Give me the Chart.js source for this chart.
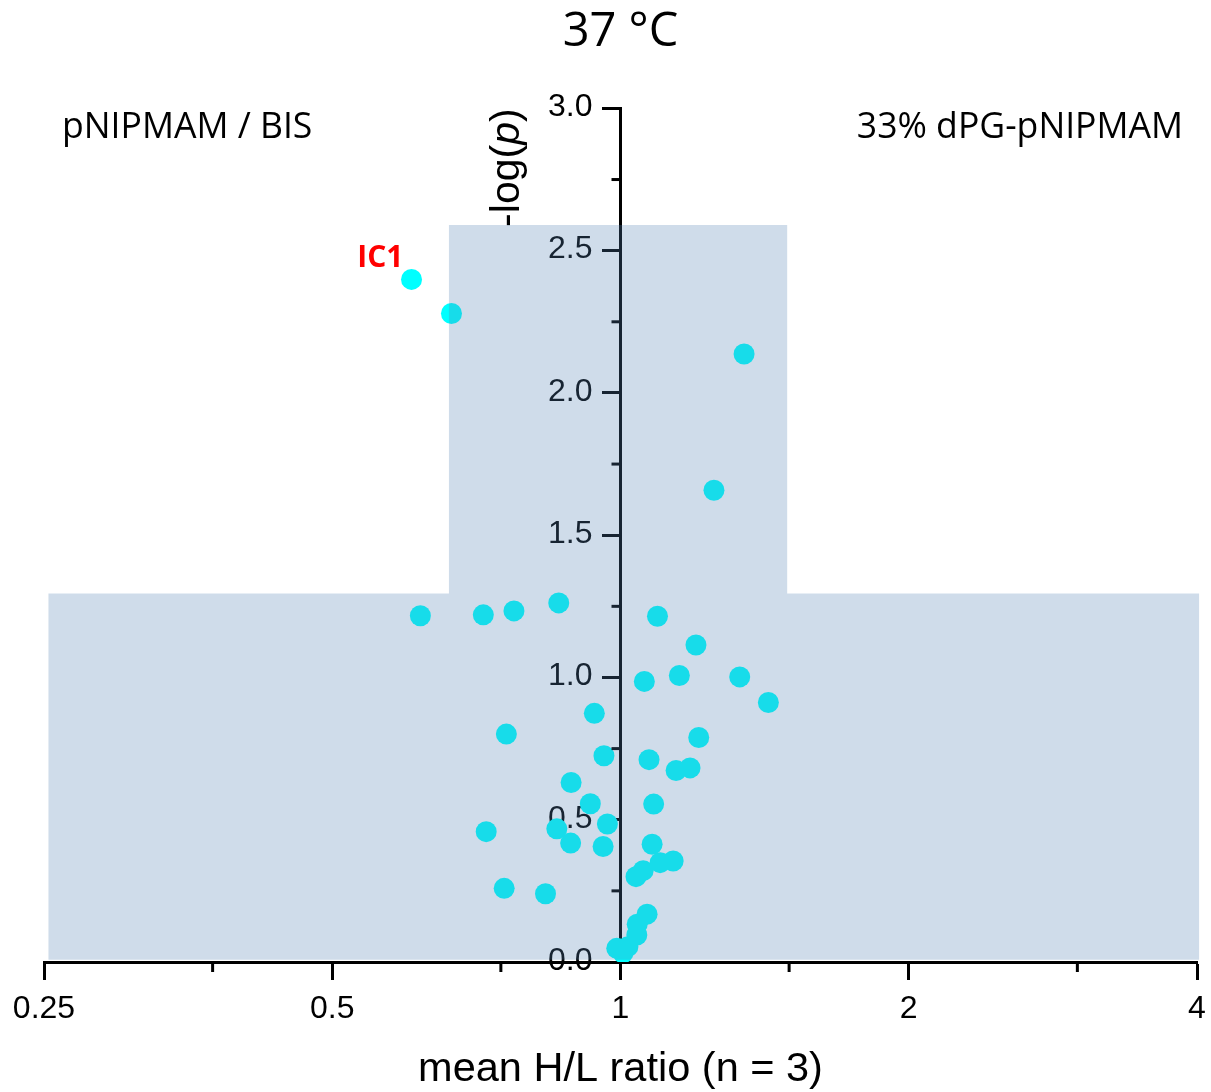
<!DOCTYPE html>
<html>
<head>
<meta charset="UTF-8">
<title>37 °C</title>
<script src="https://cdn.jsdelivr.net/npm/chart.js"></script>
<style>
    html, body { margin: 0; padding: 0; background: #fff; }
</style>
</head>
<body>
<canvas id="volcano" width="1211" height="1092"></canvas>
<script>
    // mean H/L ratio and -log(p) for each protein
    const ratioValues = [0.605, 0.666, 1.346, 1.252, 0.618, 0.719, 0.774, 0.862, 1.093, 1.199,
        1.152, 1.059, 1.332, 1.427, 0.939, 0.760, 1.207, 0.961, 1.071, 1.143,
        1.182, 0.888, 0.930, 1.083, 0.969, 0.724, 0.858, 0.887, 0.959, 1.079,
        1.100, 1.135, 1.056, 1.038, 0.756, 0.835, 1.066, 1.041, 1.040, 1.018,
        0.991, 1.006];
    const logPValues = [2.399, 2.279, 2.137, 1.658, 1.217, 1.220, 1.234, 1.262, 1.215, 1.114,
        1.007, 0.986, 1.002, 0.912, 0.874, 0.801, 0.789, 0.725, 0.711, 0.673,
        0.682, 0.631, 0.556, 0.555, 0.485, 0.458, 0.468, 0.418, 0.406, 0.414,
        0.349, 0.355, 0.321, 0.300, 0.259, 0.240, 0.168, 0.133, 0.095, 0.054,
        0.048, 0.032];
    const labelledIndex = 0;
    const labelledText = 'IC1';

    const xTickValues = [0.25, 0.375, 0.5, 0.75, 1, 1.5, 2, 3, 4];
    const xTickLabels = ['0.25', '', '0.5', '', '1', '', '2', '', '4'];

    // shaded regions: [x from, x to, y from, y to]
    const wideBox = [0.2527, 4.02, 0.008, 1.295];
    const tallBox = [0.662, 1.493, 0.008, 2.59];

    const leftNote = 'pNIPMAM / BIS';
    const rightNote = '33% dPG-pNIPMAM';

    const tickFont = 'Liberation Sans';
    const textFont = 'Open Sans';

    function isHalfStep(v) {
        return Math.abs(v * 2 - Math.round(v * 2)) < 1e-6;
    }

    // y tick labels sit left of the axis that crosses at x = 1
    const yLabels = {
        id: 'yLabels',
        beforeDatasetsDraw(chart) {
            const c = chart.ctx;
            const ys = chart.scales.y;
            const axisX = chart.scales.x.getPixelForValue(1);
            c.save();
            c.fillStyle = '#000';
            c.font = '32px "' + tickFont + '"';
            c.textAlign = 'right';
            c.textBaseline = 'middle';
            ys.ticks.forEach(t => {
                if (!isHalfStep(t.value)) return;
                c.fillText(t.value.toFixed(1), axisX - 28, ys.getPixelForValue(t.value) - 1);
            });
            c.restore();
        }
    };

    const extras = {
        id: 'extras',
        afterDraw(chart) {
            const c = chart.ctx;
            const xs = chart.scales.x;
            const ys = chart.scales.y;
            const area = chart.chartArea;
            const axisX = xs.getPixelForValue(1);

            c.save();
            // minor ticks
            c.strokeStyle = '#000';
            c.lineWidth = 3;
            xTickValues.forEach((v, i) => {
                if (xTickLabels[i] !== '') return;
                const px = xs.getPixelForValue(v);
                c.beginPath();
                c.moveTo(px, area.bottom);
                c.lineTo(px, area.bottom + 10);
                c.stroke();
            });
            ys.ticks.forEach(t => {
                if (isHalfStep(t.value)) return;
                const py = ys.getPixelForValue(t.value);
                c.beginPath();
                c.moveTo(axisX, py);
                c.lineTo(axisX - 9, py);
                c.stroke();
            });

            // corner notes
            c.fillStyle = '#000';
            c.font = '35.6px "' + textFont + '"';
            c.textBaseline = 'alphabetic';
            c.textAlign = 'left';
            c.fillText(leftNote, 62, 138);
            c.textAlign = 'right';
            c.fillText(rightNote, 1183, 138);

            // label next to the marked point
            const lx = xs.getPixelForValue(ratioValues[labelledIndex]);
            const ly = ys.getPixelForValue(logPValues[labelledIndex]);
            c.fillStyle = '#ff0000';
            c.font = 'bold 30px "' + textFont + '"';
            c.textAlign = 'right';
            c.fillText(labelledText, lx - 8, ly - 12);

            // y title, rotated, p in italics
            const parts = [['-log(', 'normal'], ['p', 'italic'], [')', 'normal']];
            c.translate(axisX - 113, area.top);
            c.rotate(-Math.PI / 2);
            c.fillStyle = '#000';
            c.textAlign = 'left';
            c.textBaseline = 'middle';
            let total = 0;
            parts.forEach(p => {
                c.font = p[1] + ' 41px "' + tickFont + '"';
                total += c.measureText(p[0]).width;
            });
            let pos = -total;
            parts.forEach(p => {
                c.font = p[1] + ' 41px "' + tickFont + '"';
                c.fillText(p[0], pos, 0);
                pos += c.measureText(p[0]).width;
            });
            c.restore();

            // translucent region laid over everything, as one shape
            c.save();
            c.fillStyle = 'rgba(83, 129, 180, 0.28)';
            c.beginPath();
            [wideBox, tallBox].forEach(b => {
                const x0 = xs.getPixelForValue(b[0]);
                const x1 = xs.getPixelForValue(b[1]);
                const y0 = ys.getPixelForValue(b[2]);
                const y1 = ys.getPixelForValue(b[3]);
                c.rect(x0, y1, x1 - x0, y0 - y1);
            });
            c.fill('nonzero');
            c.restore();
        }
    };

    const chart = new Chart(document.getElementById('volcano'), {
        type: 'scatter',
        data: {
            datasets: [{
                data: ratioValues.map((r, i) => ({ x: r, y: logPValues[i] })),
                backgroundColor: '#00ffff',
                borderWidth: 0,
                pointRadius: 10.5,
                pointHoverRadius: 10.5
            }]
        },
        options: {
            responsive: false,
            animation: false,
            devicePixelRatio: 1,
            layout: { padding: { left: 44, right: 14, top: 0, bottom: 2 } },
            plugins: {
                legend: { display: false },
                tooltip: { enabled: false },
                title: {
                    display: true,
                    fullSize: false,
                    text: '37 °C',
                    color: '#000',
                    font: { family: textFont, size: 47, weight: 'normal' },
                    padding: { top: 4, bottom: 48 }
                }
            },
            scales: {
                x: {
                    type: 'logarithmic',
                    position: 'bottom',
                    min: 0.25,
                    max: 4,
                    afterBuildTicks: (scale) => {
                        scale.ticks = xTickValues.map(v => ({ value: v }));
                    },
                    afterFit: (scale) => {
                        scale.height = 128;
                        scale.paddingLeft = 0;
                        scale.paddingRight = 0;
                    },
                    ticks: {
                        autoSkip: false,
                        maxRotation: 0,
                        padding: 10,
                        color: '#000',
                        font: { family: tickFont, size: 32 },
                        callback: (v) => {
                            const i = xTickValues.findIndex(t => Math.abs(t - v) < 1e-9);
                            return i >= 0 ? xTickLabels[i] : '';
                        }
                    },
                    grid: {
                        drawOnChartArea: false,
                        tickLength: 18,
                        tickWidth: 3,
                        tickColor: (ctx) => {
                            const i = xTickValues.findIndex(t => ctx.tick && Math.abs(t - ctx.tick.value) < 1e-9);
                            return i >= 0 && xTickLabels[i] !== '' ? '#000' : 'rgba(0,0,0,0)';
                        }
                    },
                    border: { color: '#000', width: 3 },
                    title: {
                        display: true,
                        text: 'mean H/L ratio (n = 3)',
                        color: '#000',
                        font: { family: tickFont, size: 41.5, lineHeight: 1 },
                        padding: 0
                    }
                },
                y: {
                    type: 'linear',
                    position: { x: 1 },
                    min: 0,
                    max: 3,
                    ticks: {
                        stepSize: 0.25,
                        autoSkip: false,
                        display: false
                    },
                    grid: {
                        drawOnChartArea: false,
                        tickLength: 17,
                        tickWidth: 3,
                        tickColor: (ctx) => ctx.tick && isHalfStep(ctx.tick.value) ? '#000' : 'rgba(0,0,0,0)'
                    },
                    border: { color: '#000', width: 3 }
                }
            }
        },
        plugins: [yLabels, extras]
    });
</script>
</body>
</html>
